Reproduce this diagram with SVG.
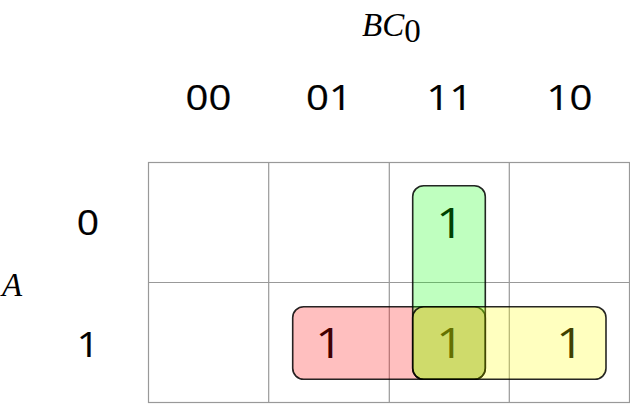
<svg xmlns="http://www.w3.org/2000/svg" width="630" height="404" viewBox="0 0 630 404">
<style>
.lbl{font-family:"Open Sans","Noto Sans",sans-serif;font-size:34px;fill:#000;stroke:#000;stroke-width:0.2;text-anchor:middle}
.one{font-family:"Open Sans","Noto Sans",sans-serif;font-size:42px;fill:#000;text-anchor:middle}
.var{font-family:"Liberation Serif","Times New Roman",serif;font-size:33px;font-style:italic;fill:#000}
.grid{fill:none;stroke:#999;stroke-width:1.2}
.grp{stroke:#000;stroke-width:1.6;stroke-opacity:0.85}
</style>
<rect width="630" height="404" fill="#fff"/>
<g id="title">
<text class="var" x="362" y="36">BC<tspan font-style="normal" dy="6">0</tspan></text>
<text class="var" x="2" y="296">A</text>
</g>
<g id="headers">
<text class="lbl" transform="translate(208.5 110) scale(1.18 1)">00</text>
<text class="lbl" transform="translate(329 110) scale(1.18 1)">01</text>
<text class="lbl" transform="translate(449.5 110) scale(1.18 1)">11</text>
<text class="lbl" transform="translate(569.5 110) scale(1.18 1)">10</text>
<text class="lbl" transform="translate(88 234.5) scale(1.15 1)">0</text>
<text class="lbl" transform="translate(88 356.5) scale(1.15 1)">1</text>
</g>
<g id="grid">
<rect class="grid" x="148.5" y="162.5" width="481" height="240"/>
<line class="grid" x1="268.7" y1="162.5" x2="268.7" y2="402.5"/>
<line class="grid" x1="389.3" y1="162.5" x2="389.3" y2="402.5"/>
<line class="grid" x1="509.3" y1="162.5" x2="509.3" y2="402.5"/>
<line class="grid" x1="148.5" y1="282.5" x2="629.5" y2="282.5"/>
</g>
<g id="cells">
<text class="one" transform="translate(450 238) scale(1.15 1)">1</text>
<text class="one" transform="translate(329 358) scale(1.15 1)">1</text>
<text class="one" transform="translate(450 358) scale(1.15 1)">1</text>
<text class="one" transform="translate(570 358) scale(1.15 1)">1</text>
</g>
<g id="groups">
<rect id="red" class="grp" x="292.7" y="306.7" width="192.6" height="72.6" rx="11" fill="#ff0000" fill-opacity="0.25"/>
<rect id="green" class="grp" x="412.7" y="185.7" width="72.6" height="193.6" rx="11" fill="#00ff00" fill-opacity="0.25"/>
<rect id="yellow" class="grp" x="412.7" y="306.7" width="193.3" height="72.6" rx="11" fill="#ffff00" fill-opacity="0.25"/>
</g>
</svg>
